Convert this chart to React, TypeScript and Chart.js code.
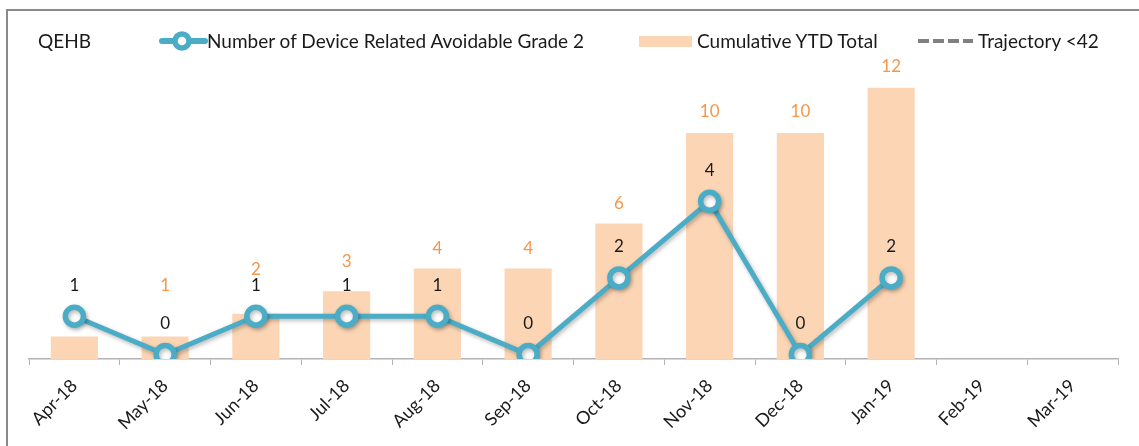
import React, { useEffect, useRef } from 'react';
import { Chart, registerables } from 'chart.js';

Chart.register(...registerables);

const categories = ['Apr-18', 'May-18', 'Jun-18', 'Jul-18', 'Aug-18', 'Sep-18', 'Oct-18', 'Nov-18', 'Dec-18', 'Jan-19', 'Feb-19', 'Mar-19'];
const deviceGrade2 = [1, 0, 1, 1, 1, 0, 2, 4, 0, 2, null, null];
const cumulativeYTD = [1, 1, 2, 3, 4, 4, 6, 10, 10, 12, null, null];
const trajectory = [null, null, null, null, null, null, null, null, null, null, null, null];

// label placement (pixels above bar top), as nudged in the original chart
const barLabelGap = [20, 51, 44, 30, 20, 20, 20, 21, 21, 21, 20, 20];

const FONT = 'Lato, "Noto Sans", sans-serif';
const TEAL = '#4BACC6';
const PEACH = '#FCD5B5';
const ORANGE = '#F79646';
const TEXT = '#1a1a1a';

const valueLabels = {
  id: 'valueLabels',
  afterDatasetDraw(chart: any, args: any) {
    if (args.index !== 1) return;
    const ctx = chart.ctx;
    ctx.save();
    ctx.font = `17px ${FONT}`;
    ctx.textAlign = 'center';
    ctx.textBaseline = 'middle';
    const barMeta = chart.getDatasetMeta(1);
    barMeta.data.forEach((el: any, i: number) => {
      const v = cumulativeYTD[i];
      if (v === null || v === undefined) return;
      ctx.fillStyle = ORANGE;
      ctx.fillText(String(v), el.x, el.y - barLabelGap[i]);
    });
    ctx.restore();
  },
  afterDatasetsDraw(chart: any) {
    const ctx = chart.ctx;
    ctx.save();
    ctx.font = `17px ${FONT}`;
    ctx.textAlign = 'center';
    ctx.textBaseline = 'middle';
    const lineMeta = chart.getDatasetMeta(0);
    lineMeta.data.forEach((el: any, i: number) => {
      const v = deviceGrade2[i];
      if (v === null || v === undefined) return;
      ctx.fillStyle = TEXT;
      ctx.fillText(String(v), el.x, el.y - 31);
    });
    ctx.restore();
  },
};

const markerShadow = {
  id: 'markerShadow',
  beforeDatasetDraw(chart: any, args: any) {
    if (args.index === 0) {
      const ctx = chart.ctx;
      ctx.save();
      ctx.shadowColor = 'rgba(0,0,0,0.28)';
      ctx.shadowBlur = 4;
      ctx.shadowOffsetX = 1.5;
      ctx.shadowOffsetY = 2;
    }
  },
  afterDatasetDraw(chart: any, args: any) {
    if (args.index === 0) chart.ctx.restore();
  },
};

export default function App() {
  const ref = useRef<HTMLCanvasElement>(null);

  useEffect(() => {
    if (!ref.current) return;
    const TOP = 60;
    const BOTTOM = 359;
    const h = BOTTOM - TOP;
    const barPx = 22.6;
    const linePx = 38.3;
    const lineMin = -4.5 / linePx;
    const chart = new Chart(ref.current, {
      type: 'bar',
      data: {
        labels: categories,
        datasets: [
          {
            type: 'line',
            label: 'Number of Device Related Avoidable Grade 2',
            data: deviceGrade2,
            yAxisID: 'yLine',
            borderColor: TEAL,
            borderWidth: 5,
            pointRadius: 9,
            pointBorderWidth: 5.5,
            pointBackgroundColor: '#ffffff',
            pointBorderColor: TEAL,
            spanGaps: false,
            order: 0,
          } as any,
          {
            type: 'bar',
            label: 'Cumulative YTD Total',
            data: cumulativeYTD,
            yAxisID: 'yBar',
            backgroundColor: PEACH,
            barPercentage: 0.52,
            categoryPercentage: 1,
            order: 2,
          },
          {
            type: 'line',
            label: 'Trajectory <42',
            data: trajectory,
            yAxisID: 'yBar',
            borderColor: '#808080',
            borderDash: [11, 4],
            borderWidth: 3,
            pointRadius: 0,
            order: 1,
          } as any,
        ],
      },
      options: {
        animation: false,
        responsive: false,
        devicePixelRatio: 1,
        layout: { padding: { top: TOP, left: 29, right: 21, bottom: 0 } },
        plugins: {
          legend: { display: false },
          tooltip: { enabled: false },
          title: { display: false },
        },
        scales: {
          x: {
            offset: true,
            grid: {
              offset: true,
              drawOnChartArea: false,
              drawTicks: true,
              tickLength: 6,
              color: '#b3b3b3',
            },
            border: { display: true, color: '#b3b3b3', width: 1.5 },
            ticks: {
              maxRotation: 45,
              minRotation: 45,
              autoSkip: false,
              color: TEXT,
              font: { family: FONT, size: 18 },
              padding: 10,
            },
            afterFit: (scale: any) => {
              scale.height = 446 - BOTTOM;
            },
          },
          yBar: {
            display: false,
            min: 0,
            max: h / barPx,
          },
          yLine: {
            display: false,
            min: lineMin,
            max: lineMin + h / linePx,
          },
        },
      },
      plugins: [markerShadow, valueLabels],
    });
    return () => chart.destroy();
  }, []);

  const legendText: React.CSSProperties = {
    position: 'absolute',
    top: 41,
    transform: 'translateY(-50%)',
    fontFamily: FONT,
    fontSize: 19,
    color: TEXT,
    whiteSpace: 'nowrap',
    lineHeight: '22px',
  };

  return (
    <div style={{ position: 'absolute', left: 0, top: 0, width: 1139, height: 446, overflow: 'hidden', background: '#fff' }}>
      <div style={{ position: 'absolute', left: 6, top: 9, width: 1160, height: 460, border: '2px solid #8a8a8a', boxSizing: 'border-box' }} />
      <canvas ref={ref} width={1139} height={446} style={{ position: 'absolute', left: 0, top: 0, width: 1139, height: 446 }} />
      <div style={{ ...legendText, left: 38 }}>QEHB</div>
      <svg style={{ position: 'absolute', left: 158, top: 29 }} width={50} height={24}>
        <line x1={4} y1={12} x2={47} y2={12} stroke={TEAL} strokeWidth={6} strokeLinecap="round" />
        <circle cx={24} cy={12} r={7} fill="#fff" stroke={TEAL} strokeWidth={5.5} />
      </svg>
      <div style={{ ...legendText, left: 207 }}>Number of Device Related Avoidable Grade 2</div>
      <div style={{ position: 'absolute', left: 639, top: 36, width: 53, height: 11, background: PEACH }} />
      <div style={{ ...legendText, left: 697 }}>Cumulative YTD Total</div>
      <svg style={{ position: 'absolute', left: 916, top: 35 }} width={60} height={12}>
        <line x1={2} y1={6} x2={57} y2={6} stroke="#808080" strokeWidth={4} strokeDasharray="11 4" />
      </svg>
      <div style={{ ...legendText, left: 978 }}>Trajectory &lt;42</div>
    </div>
  );
}
